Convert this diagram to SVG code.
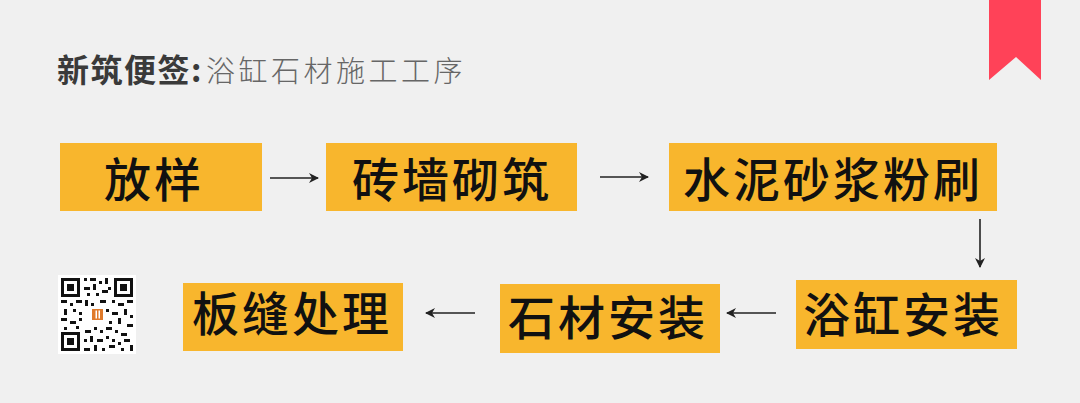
<svg xmlns="http://www.w3.org/2000/svg" width="1080" height="403" viewBox="0 0 1080 403">
<style>
.box{fill:#f8b62d}
.lbl{font-family:"Noto Sans CJK SC","Noto Sans",sans-serif;font-size:47px;font-weight:500;fill:#111;letter-spacing:3px}
.ln{stroke:#222;stroke-width:1.6;fill:none}
.t1{font-family:"Noto Sans CJK SC",sans-serif;font-size:32px;font-weight:700;fill:#3a3a3a;letter-spacing:1.5px}
.t2{font-family:"Noto Sans CJK SC",sans-serif;font-size:29px;font-weight:300;fill:#666;letter-spacing:3.5px}
.q{fill:#111}
</style>
<defs>
<marker id="ah" viewBox="0 0 10 10" refX="9" refY="5" markerWidth="10" markerHeight="10" markerUnits="userSpaceOnUse" orient="auto">
<path d="M0,0 L10,5 L0,10 L3,5 Z" fill="#222"/>
</marker>
</defs>
<rect width="1080" height="403" fill="#f0f0f0"/>
<polygon points="989,0 1041,0 1041,80 1016,57 989,80" fill="#ff4258"/>
<text x="57" y="82"><tspan class="t1">新筑便签:</tspan><tspan class="t2" dx="3">浴缸石材施工工序</tspan></text>
<g id="n1"><rect class="box" x="60" y="143" width="202" height="68"/><text class="lbl" x="104" y="197">放样</text></g>
<g id="n2"><rect class="box" x="326" y="143" width="251" height="68"/><text class="lbl" x="352" y="197">砖墙砌筑</text></g>
<g id="n3"><rect class="box" x="669" y="143" width="328" height="68"/><text class="lbl" x="683" y="197">水泥砂浆粉刷</text></g>
<g id="n4"><rect class="box" x="796" y="280" width="221" height="69"/><text class="lbl" x="803" y="332">浴缸安装</text></g>
<g id="n5"><rect class="box" x="500" y="284" width="220" height="69"/><text class="lbl" x="508" y="335">石材安装</text></g>
<g id="n6"><rect class="box" x="183" y="283" width="220" height="68"/><text class="lbl" x="192" y="331">板缝处理</text></g>
<g id="connectors">
<line class="ln" x1="270" y1="178" x2="318" y2="178" marker-end="url(#ah)"/>
<line class="ln" x1="600" y1="177" x2="648" y2="177" marker-end="url(#ah)"/>
<line class="ln" x1="980" y1="219" x2="980" y2="267" marker-end="url(#ah)"/>
<line class="ln" x1="776" y1="313" x2="727" y2="313" marker-end="url(#ah)"/>
<line class="ln" x1="475" y1="313" x2="426" y2="313" marker-end="url(#ah)"/>
</g>
<g id="qr">
<rect x="58" y="275" width="78" height="79" fill="#fff"/>
<rect x="61" y="278" width="19" height="19" class="q"/><rect x="64" y="281" width="13" height="13" fill="#fff"/><rect x="67" y="284" width="7" height="7" class="q"/>
<rect x="114" y="278" width="19" height="19" class="q"/><rect x="117" y="281" width="13" height="13" fill="#fff"/><rect x="120" y="284" width="7" height="7" class="q"/>
<rect x="61" y="332" width="19" height="19" class="q"/><rect x="64" y="335" width="13" height="13" fill="#fff"/><rect x="67" y="338" width="7" height="7" class="q"/>
<path class="q" d="M84,278h3v3h-3zM90,278h6v3h-6zM99,281h3v3h-3zM105,278h3v6h-3zM84,287h6v3h-6zM93,284h3v6h-3zM102,290h6v3h-6zM87,293h3v3h-3zM96,293h3v3h-3zM108,287h3v3h-3zM61,300h6v3h-6zM70,303h3v3h-3zM76,300h6v3h-6zM85,300h3v6h-3zM91,303h3v3h-3zM100,300h6v3h-6zM112,300h3v3h-3zM118,303h6v3h-6zM127,300h6v3h-6zM64,309h3v6h-3zM73,309h3v3h-3zM79,312h3v3h-3zM106,309h3v3h-3zM112,312h6v3h-6zM124,309h3v6h-3zM130,315h3v3h-3zM61,318h6v3h-6zM70,321h6v3h-6zM79,318h3v3h-3zM109,321h3v3h-3zM118,318h3v6h-3zM127,324h6v3h-6zM64,327h3v3h-3zM76,326h3v3h-3zM85,330h6v3h-6zM94,327h3v3h-3zM100,330h3v3h-3zM106,327h6v3h-6zM115,330h3v3h-3zM121,333h6v3h-6zM84,339h3v3h-3zM90,336h3v6h-3zM97,339h6v3h-6zM106,336h3v3h-3zM112,339h3v3h-3zM118,342h3v3h-3zM124,339h6v3h-6zM84,348h6v3h-6zM94,345h3v6h-3zM102,348h3v3h-3zM109,345h6v3h-6zM121,348h3v3h-3zM130,345h3v6h-3z"/>
<rect x="89" y="306" width="17" height="17" fill="#fff"/>
<rect x="92" y="309" width="11" height="11" fill="#e07a2a"/>
<rect x="95.5" y="310.5" width="1.5" height="8" fill="#fff"/><rect x="98.5" y="310.5" width="1.5" height="8" fill="#fff"/>
</g>
</svg>
